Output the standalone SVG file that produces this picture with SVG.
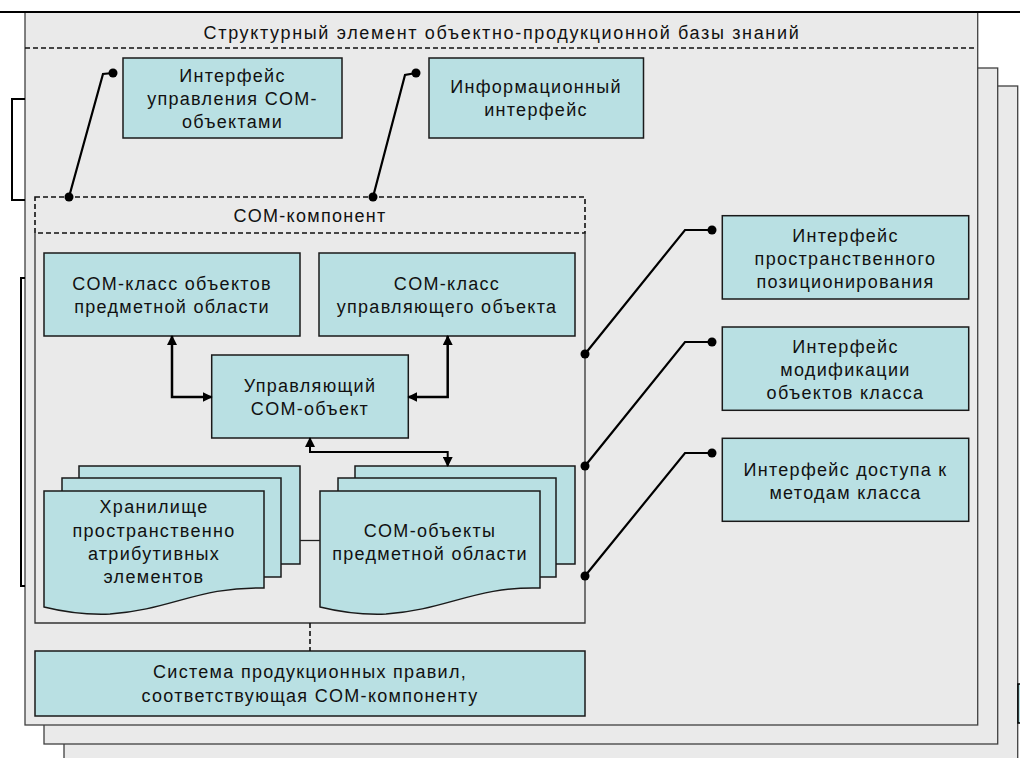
<svg xmlns="http://www.w3.org/2000/svg" width="1020" height="758" viewBox="0 0 1020 758">
<style>
.pg{fill:#EAEAEA;stroke:#404040;stroke-width:1.3}
.box{fill:#B9E0E3;stroke:#1a1a1a;stroke-width:1.5}
.t{font-family:"Liberation Sans",Arial,sans-serif;font-size:18px;letter-spacing:1.3px;fill:#111;text-anchor:middle}
.dash{fill:none;stroke:#111;stroke-width:1.6;stroke-dasharray:5,3}
.ln{fill:none;stroke:#000;stroke-width:2.2}
.ar{fill:none;stroke:#000;stroke-width:2.5;marker-start:url(#ah);marker-end:url(#ah)}
.dot{fill:#000}
</style>
<defs>
<marker id="ah" viewBox="0 0 10 10" refX="9" refY="5" markerWidth="10" markerHeight="10" markerUnits="userSpaceOnUse" orient="auto-start-reverse">
<path d="M0,0 L10,5 L0,10 z" fill="#000"/>
</marker>
</defs>
<rect width="1020" height="758" fill="#fff"/>
<g id="pages">
<rect class="pg" x="64" y="86" width="953.7" height="700"/>
<rect class="pg" x="44" y="68" width="953.7" height="676"/>
<rect class="pg" x="25" y="12" width="952.7" height="713"/>
<line x1="0" y1="12" x2="1020" y2="12" stroke="#000" stroke-width="2"/>
<path d="M25,99 H12 V200 H25" fill="none" stroke="#000" stroke-width="2"/>
<path d="M25,278 H21 V586 H25" fill="none" stroke="#000" stroke-width="2"/>
<rect x="1018" y="684" width="6" height="39" fill="#B9E0E3" stroke="#000" stroke-width="1.5"/>
</g>
<g id="header">
<text class="t" x="502" y="39" style="letter-spacing:1.65px">Структурный элемент  объектно-продукционной базы знаний</text>
<line class="dash" x1="25" y1="48" x2="977" y2="48"/>
</g>
<g id="iface-com">
<rect class="box" x="123" y="58" width="219" height="80"/>
<text class="t" x="232.5" y="82">Интерфейс</text>
<text class="t" x="232.5" y="105">управления COM-</text>
<text class="t" x="232.5" y="128">объектами</text>
</g>
<g id="iface-info">
<rect class="box" x="429" y="58" width="214.5" height="80"/>
<text class="t" x="536" y="93">Информационный</text>
<text class="t" x="536" y="116">интерфейс</text>
</g>
<g id="com-component">
<rect class="dash" x="35" y="197" width="550" height="36"/>
<path d="M35,233 V623 H585 V233" fill="none" stroke="#333" stroke-width="1.3"/>
<text class="t" x="310" y="222">COM-компонент</text>
</g>
<g id="com-class-domain">
<rect class="box" x="44" y="253" width="256" height="83"/>
<text class="t" x="172" y="289.5">COM-класс объектов</text>
<text class="t" x="172" y="312.5">предметной области</text>
</g>
<g id="com-class-ctrl">
<rect class="box" x="319" y="253" width="256" height="83"/>
<text class="t" x="447" y="289.5">COM-класс</text>
<text class="t" x="447" y="312.5">управляющего объекта</text>
</g>
<g id="ctrl-object">
<rect class="box" x="211.7" y="355" width="196.6" height="83"/>
<text class="t" x="310" y="391.5">Управляющий</text>
<text class="t" x="310" y="414.5">COM-объект</text>
</g>
<g id="storage">
<rect class="box" x="79" y="466" width="221" height="98"/>
<rect class="box" x="62" y="478" width="219" height="99"/>
<path class="box" d="M44,491 H264 V588 C200,586 170,610 110,614 C85,615 60,611 44,607 Z"/>
<text class="t" x="154" y="513">Хранилище</text>
<text class="t" x="154" y="536.5">пространственно</text>
<text class="t" x="154" y="560">атрибутивных</text>
<text class="t" x="154" y="583">элементов</text>
</g>
<g id="com-objects">
<rect class="box" x="355" y="466" width="220" height="98"/>
<rect class="box" x="338" y="478" width="218" height="99"/>
<path class="box" d="M320,491 H540 V588 C476,586 446,610 386,614 C361,615 336,611 320,607 Z"/>
<text class="t" x="430" y="536.5">COM-объекты</text>
<text class="t" x="430" y="560">предметной области</text>
</g>
<g id="iface-spatial">
<rect class="box" x="722.3" y="215.7" width="246.4" height="83.3"/>
<text class="t" x="845.5" y="242">Интерфейс</text>
<text class="t" x="845.5" y="265">пространственного</text>
<text class="t" x="845.5" y="288">позиционирования</text>
</g>
<g id="iface-modify">
<rect class="box" x="722.3" y="327" width="246.4" height="83.3"/>
<text class="t" x="845.5" y="353">Интерфейс</text>
<text class="t" x="845.5" y="376">модификации</text>
<text class="t" x="845.5" y="399">объектов класса</text>
</g>
<g id="iface-methods">
<rect class="box" x="722.3" y="438.3" width="246.4" height="83"/>
<text class="t" x="845.5" y="476">Интерфейс доступа к</text>
<text class="t" x="845.5" y="499">методам класса</text>
</g>
<g id="rules">
<rect class="box" x="35" y="651" width="550" height="65"/>
<text class="t" x="310" y="678">Система продукционных правил,</text>
<text class="t" x="310" y="702">соответствующая COM-компоненту</text>
</g>
<g id="connectors">
<path class="ar" d="M172,336 V397 H211.7"/>
<path class="ar" d="M447.7,336 V397 H408.3"/>
<path class="ar" style="stroke-width:2" d="M310,438 V452 H447.7 V466"/>
<line x1="300" y1="540.5" x2="320" y2="540.5" stroke="#222" stroke-width="1.3"/>
<line class="dash" x1="310" y1="623" x2="310" y2="651"/>
<path class="ln" d="M69,197 L103,74 L113,73"/>
<circle class="dot" cx="69" cy="197" r="4.5"/>
<circle class="dot" cx="113" cy="73" r="4.5"/>
<path class="ln" d="M373,197 L405,75 L416,73"/>
<circle class="dot" cx="373" cy="197" r="4.5"/>
<circle class="dot" cx="416" cy="73" r="4.5"/>
<path class="ln" d="M585,354 L685,230 H712"/>
<circle class="dot" cx="585" cy="354" r="4.5"/>
<circle class="dot" cx="712" cy="230" r="4.5"/>
<path class="ln" d="M585,466 L685,342 H712"/>
<circle class="dot" cx="585" cy="466" r="4.5"/>
<circle class="dot" cx="712" cy="342" r="4.5"/>
<path class="ln" d="M585,576 L685,453 H712"/>
<circle class="dot" cx="585" cy="576" r="4.5"/>
<circle class="dot" cx="712" cy="453" r="4.5"/>
</g>
</svg>
